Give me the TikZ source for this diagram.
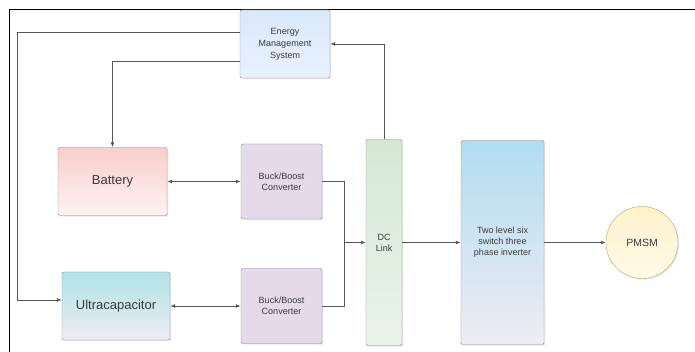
\documentclass[tikz,border=0pt]{standalone}
\usepackage{fontspec}
\setmainfont{Liberation Sans}
\usetikzlibrary{arrows.meta,shadows}
\definecolor{txt}{HTML}{3A3A3A}
\definecolor{edge}{HTML}{8C8C8C}
\definecolor{wirec}{HTML}{555555}
\definecolor{emsc}{HTML}{DAE8FC}
\definecolor{batc}{HTML}{F8CECC}
\definecolor{ucapc}{HTML}{B0E3E6}
\definecolor{bbc}{HTML}{E4DAEA}
\definecolor{dcc}{HTML}{D5E8D4}
\definecolor{invc}{HTML}{B1DDF0}
\definecolor{motc}{HTML}{FFF2CC}
\definecolor{pale}{HTML}{EEECF3}
\begin{document}
\begin{tikzpicture}[x=1pt,y=-1pt,
  blk/.style={draw=edge,rounded corners=1.5pt,inner sep=0pt,align=center,text=txt,
    drop shadow={shadow xshift=1.2pt,shadow yshift=-1.2pt,opacity=0.2}},
  wire/.style={draw=wirec,line width=0.9pt,-{Latex[length=5pt,width=4pt]}},
  both/.style={wire,{Latex[length=5pt,width=4pt]}-{Latex[length=5pt,width=4pt]}}]

\useasboundingbox (0,0) rectangle (695,352);
\draw[line width=0.9pt] (695,9) -- (9.5,9) -- (9.5,352); % frame

\node[blk,top color=emsc,bottom color=emsc!60,minimum width=90,minimum height=68,
  font=\fontsize{9}{12}\selectfont] (ems) at (285,44) {Energy\\Management\\System};
\node[blk,top color=batc,bottom color=batc!25,minimum width=109,minimum height=68,
  font=\fontsize{13}{15}\selectfont] (bat) at (112.5,181.5) {Battery};
\node[blk,top color=ucapc,bottom color=pale,minimum width=108,minimum height=68,
  font=\fontsize{13}{15}\selectfont] (ucap) at (116,306) {Ultracapacitor};
\foreach \n/\y in {1/181.5,2/306}{ % buck/boost converters
  \node[blk,fill=bbc,minimum width=81,minimum height=75,
    font=\fontsize{9}{11}\selectfont] (bb\n) at (281.5,\y) {Buck/Boost\\Converter};
}
\node[blk,top color=dcc,bottom color=dcc!50,minimum width=36,minimum height=206,
  font=\fontsize{9}{11}\selectfont] (dc) at (384,242.5) {DC\\Link};
\node[blk,top color=invc,bottom color=pale,minimum width=83,minimum height=204,
  font=\fontsize{9}{11}\selectfont] (inv) at (502.5,242.5) {Two level six\\switch three\\phase inverter};
\node[blk,circle,draw=edge!70!yellow,top color=motc,bottom color=motc!45,
  minimum size=72,font=\fontsize{10.5}{12}\selectfont] (pmsm) at (642,242.5) {PMSM};

% control lines from the EMS
\coordinate (lbus) at (17,32);
\draw[wire] ([yshift=12pt]ems.west) -- (lbus) |- ([yshift=6pt]ucap.west);
\draw[wire] ([yshift=-17pt]ems.west) -| (bat.north);
\draw[wire] (dc.north) |- (ems.east);

% power path
\draw[both] (bat.east) -- (bb1.west);
\draw[both] (ucap.east) -- (bb2.west);
\coordinate (jn) at (344,242.5);
\draw[wire,-] (bb1.east) -| (jn);
\draw[wire,-] (bb2.east) -| (jn);
\draw[wire] (jn) -- (dc.west);
\draw[wire] (dc.east) -- (inv.west);
\draw[wire] (inv.east) -- (pmsm.west);
\end{tikzpicture}
\end{document}
